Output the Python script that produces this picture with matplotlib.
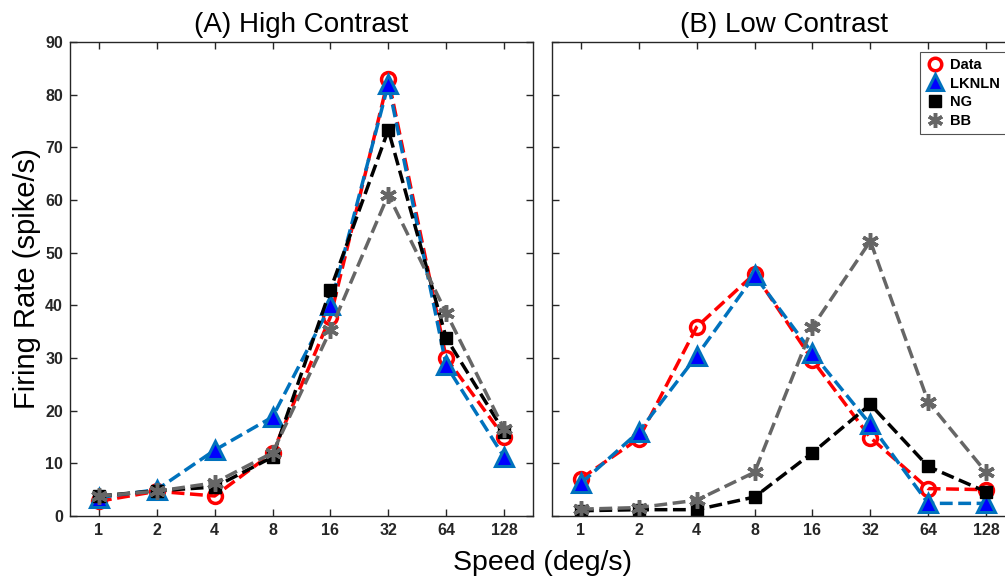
import numpy as np
import matplotlib.pyplot as plt

plt.rcParams['font.family'] = ['Liberation Sans', 'DejaVu Sans']

speeds = ['1', '2', '4', '8', '16', '32', '64', '128']

# (A) high contrast
hi_data = [2.8, 4.7, 3.8, 12.0, 37.8, 83.0, 30.0, 15.0]
hi_lknln = [3.5, 5.0, 12.5, 18.8, 40.0, 82.0, 28.6, 11.2]
hi_ng = [3.8, 4.8, 5.5, 11.2, 43.0, 73.3, 33.8, 16.0]
hi_bb = [3.8, 4.7, 6.3, 12.0, 35.3, 61.0, 38.6, 16.5]

# (B) low contrast
lo_data = [7.1, 14.7, 35.9, 46.0, 29.6, 14.9, 5.2, 5.0]
lo_lknln = [6.2, 16.0, 30.4, 45.7, 30.9, 17.4, 2.4, 2.4]
lo_ng = [1.0, 1.2, 1.2, 3.6, 12.0, 21.2, 9.4, 4.6]
lo_bb = [1.3, 1.6, 3.0, 8.3, 35.9, 52.2, 21.7, 8.3]

x = np.arange(1, len(speeds) + 1)
matlab_blue = (0, 0.447, 0.741)
axis_col = (0.15, 0.15, 0.15)


def draw_panel(ax, data, lknln, ng, bb, title):
    ax.plot(x, data, '--', color='red', lw=2.5, marker='o', ms=10,
            mfc='none', mec='red', mew=2.5, label='Data')
    ax.plot(x, lknln, '--', color=matlab_blue, lw=2.5, marker='^', ms=13,
            mfc='blue', mec=matlab_blue, mew=2.2, label='LKNLN')
    ax.plot(x, ng, '--', color='black', lw=2.5, marker='s', ms=9,
            mfc='black', mec='black', label='NG')
    ax.plot(x, bb, '--', color=(0.4, 0.4, 0.4), lw=2.5, marker=(6, 2, 0), ms=12,
            mec=(0.4, 0.4, 0.4), mew=2.5, label='BB')
    ax.set_xlim(0.5, 8.5)
    ax.set_ylim(0, 90)
    ax.set_xticks(x)
    ax.set_xticklabels(speeds)
    ax.set_yticks(np.arange(0, 91, 10))
    ax.tick_params(direction='in', top=True, right=True, length=5,
                   width=1, colors=axis_col, labelsize=11.5, pad=5)
    for lbl in ax.get_xticklabels() + ax.get_yticklabels():
        lbl.set_fontweight('bold')
    for s in ax.spines.values():
        s.set_color(axis_col)
        s.set_linewidth(1)
    ax.set_title(title, fontsize=20, pad=7)


fig = plt.figure(figsize=(10.05, 5.82), dpi=100)
ax1 = fig.add_axes([70 / 1005, 66 / 582, 463 / 1005, 474 / 582])
ax2 = fig.add_axes([552 / 1005, 66 / 582, 463 / 1005, 474 / 582])

draw_panel(ax1, hi_data, hi_lknln, hi_ng, hi_bb, '(A) High Contrast')
draw_panel(ax2, lo_data, lo_lknln, lo_ng, lo_bb, '(B) Low Contrast')
ax2.set_yticklabels([])

ax1.set_ylabel('Firing Rate (spike/s)', fontsize=21, labelpad=3)
fig.text(542 / 1005, 12 / 582, 'Speed (deg/s)', fontsize=20.5, ha='center', va='baseline')

leg = ax2.legend(loc='upper left', bbox_to_anchor=((920 - 552) / 463, 0.979),
                 prop={'weight': 'bold', 'size': 10.5}, frameon=True, fancybox=False,
                 handlelength=1.2, handletextpad=0.45, borderpad=0.4,
                 labelspacing=0.33, borderaxespad=0, markerscale=0.9)
leg.get_frame().set_edgecolor(axis_col)
leg.get_frame().set_linewidth(0.8)
for h in leg.get_lines():
    h.set_linestyle('none')

fig.savefig('out.png', dpi=100)
